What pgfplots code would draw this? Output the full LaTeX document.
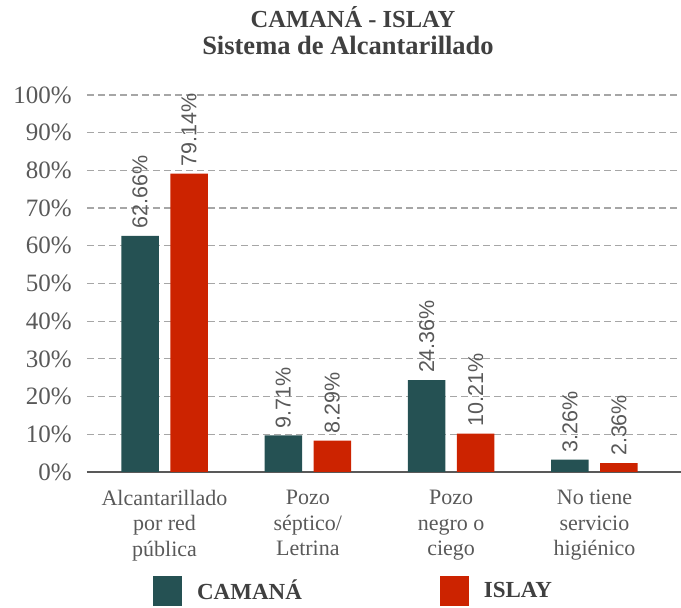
\documentclass[border=0pt]{standalone}
\usepackage{pgfplots}
\pgfplotsset{compat=1.18}
\usepackage{fontspec}
\setmainfont{Liberation Serif}
\newfontfamily\lblfont{Liberation Sans}

\definecolor{camana}{RGB}{37,81,83}
\definecolor{islay}{RGB}{204,35,0}
\definecolor{txtdark}{RGB}{64,64,64}
\definecolor{txtmid}{RGB}{89,89,89}
\definecolor{gridgray}{RGB}{166,166,166}

\pgfplotsset{
  barlabel/.style={every node near coord/.append style={
    xshift=#1, rotate=90, anchor=west, inner xsep=7pt, inner ysep=0pt,
    font=\lblfont\fontsize{21.5}{24}\selectfont, text=txtmid}},
}

\begin{document}
\begin{tikzpicture}
\useasboundingbox (-87pt,-136pt) rectangle (594pt,472pt);
\begin{axis}[
  at={(0pt,0pt)}, anchor=south west,
  scale only axis,
  width=594pt, height=377pt,
  xmin=-0.541, xmax=3.604,
  ymin=0, ymax=100,
  clip=false,
  /pgf/number format/assume math mode=true,
  axis x line*=bottom,
  axis y line*=left,
  y axis line style={draw=none},
  x axis line style={draw=txtmid, line width=1.4pt},
  major tick length=0pt,
  ytick={0,10,...,100},
  yticklabel={\pgfmathprintnumber{\tick}\%},
  yticklabel style={font=\fontsize{25}{28}\selectfont, text=txtmid, anchor=east, inner sep=0pt, xshift=-15pt},
  ymajorgrids,
  grid style={gridgray, line width=1.2pt, dash pattern=on 7pt off 4pt},
  xtick={0,1,2,3},
  xticklabels={{Alcantarillado\\por red\\pública},{Pozo\\séptico/\\Letrina},{Pozo\\negro o\\ciego},{No tiene\\servicio\\higiénico}},
  xticklabel style={font=\fontsize{22}{25.5}\selectfont, text=txtmid, align=center, anchor=north, inner sep=0pt, yshift=-18pt},
  nodes near coords={\pgfmathprintnumber[fixed,fixed zerofill,precision=2]{\pgfplotspointmeta}\%},
  legend columns=2,
  legend style={at={(0.111,-0.2759)}, anchor=north west, draw=none, fill=none, inner sep=0pt,
    font=\fontsize{23}{26}\selectfont\bfseries, text=txtdark,
    /tikz/every even column/.append style={column sep=136pt}},
]
\addplot[ybar, bar width=37.5pt, bar shift=-24.5pt, fill=camana, draw=none, barlabel=-24.5pt,
  legend image code/.code={\fill[camana] (0pt,-7pt) rectangle (29pt,23pt);}]
  coordinates {(0,62.66) (1,9.71) (2,24.36) (3,3.26)};
\addlegendentry{\hspace{13pt}\raisebox{17pt}{CAMANÁ}}
\addplot[ybar, bar width=37.5pt, bar shift=24.5pt, fill=islay, draw=none, barlabel=24.5pt,
  legend image code/.code={\fill[islay] (0pt,-7pt) rectangle (29pt,23pt);}]
  coordinates {(0,79.14) (1,8.29) (2,10.21) (3,2.36)};
\addlegendentry{\hspace{13pt}\raisebox{17pt}{ISLAY}}
\end{axis}
\node[anchor=base, font=\fontsize{24.5}{30}\selectfont\bfseries, text=txtdark] at (266pt,444pt) {CAMANÁ - ISLAY};
\node[anchor=base, font=\fontsize{26.5}{30}\selectfont\bfseries, text=txtdark] at (261pt,417pt) {Sistema de Alcantarillado};
\end{tikzpicture}
\end{document}
